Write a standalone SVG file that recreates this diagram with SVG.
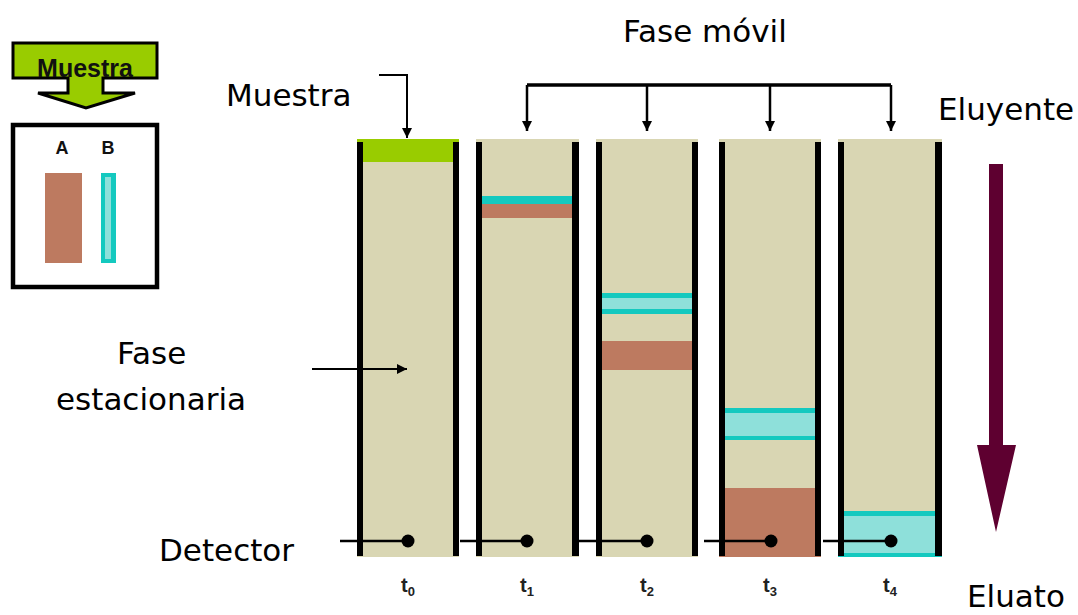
<svg xmlns="http://www.w3.org/2000/svg" width="1078" height="615" viewBox="0 0 1078 615">
  <style>
    .lbl { font-family: "DejaVu Sans", Verdana, sans-serif; font-size: 31px; fill: #000; }
    .bold { font-family: "Liberation Sans", Arial, sans-serif; font-weight: bold; fill: #111; }
    .tl { font-family: "Liberation Sans", Arial, sans-serif; font-weight: bold; font-size: 20px; fill: #222; text-anchor: middle; }
    .sub { font-size: 13px; }
    .bed { fill: #D9D6B3; }
    .wall { fill: #000; }
    .brown { fill: #BD7A60; }
    .cyan { fill: #14C9BF; }
    .cyanlight { fill: #8EE0DA; }
    .line { stroke: #000; fill: none; }
  </style>
  <defs>
    <marker id="ah" viewBox="0 0 10 10" refX="10" refY="5" markerWidth="4" markerHeight="4" orient="auto" markerUnits="strokeWidth">
      <path d="M0,0 L10,5 L0,10 z" fill="#000"/>
    </marker>
    <marker id="ahs" viewBox="0 0 10 10" refX="10" refY="5" markerWidth="5" markerHeight="5" orient="auto" markerUnits="strokeWidth">
      <path d="M0,0 L10,5 L0,10 z" fill="#000"/>
    </marker>
  </defs>

  <!-- sample legend -->
  <g id="legend-sample">
    <path d="M13,43 H157 V78 H103 V93 H135 L86,108 L38,93 H68 V78 H13 Z" fill="#99CC00" stroke="#000" stroke-width="3" stroke-linejoin="miter"/>
    <text class="bold" x="85" y="77" font-size="25" text-anchor="middle">Muestra</text>
  </g>
  <g id="legend-box">
    <rect x="13" y="125" width="144" height="162" fill="#fff" stroke="#000" stroke-width="4.5"/>
    <text class="bold" x="62" y="154" font-size="18" text-anchor="middle">A</text>
    <text class="bold" x="108" y="154" font-size="18" text-anchor="middle">B</text>
    <rect class="brown" x="45" y="173" width="37" height="90"/>
    <rect class="cyan" x="101" y="173" width="15" height="90"/>
    <rect class="cyanlight" x="105" y="177" width="6" height="82"/>
  </g>

  <!-- column t0 -->
  <g id="col-t0">
    <rect class="bed" x="357" y="139" width="102" height="418"/>
    <rect x="357" y="139" width="102" height="23" fill="#99CC00"/>
    <rect class="wall" x="357" y="142" width="6" height="414"/>
    <rect class="wall" x="453" y="142" width="6" height="414"/>
  </g>
  <!-- column t1 -->
  <g id="col-t1">
    <rect class="bed" x="476" y="139" width="103" height="418"/>
    <rect class="cyan" x="482" y="196" width="90" height="8"/>
    <rect class="brown" x="482" y="204" width="90" height="14"/>
    <rect class="wall" x="476" y="142" width="6" height="414"/>
    <rect class="wall" x="572" y="142" width="7" height="414"/>
  </g>
  <!-- column t2 -->
  <g id="col-t2">
    <rect class="bed" x="596" y="139" width="102" height="418"/>
    <rect class="cyan" x="602" y="293" width="90" height="21"/>
    <rect class="cyanlight" x="602" y="298" width="90" height="11"/>
    <rect class="brown" x="602" y="341" width="90" height="29"/>
    <rect class="wall" x="596" y="142" width="6" height="414"/>
    <rect class="wall" x="692" y="142" width="6" height="414"/>
  </g>
  <!-- column t3 -->
  <g id="col-t3">
    <rect class="bed" x="719" y="139" width="102" height="418"/>
    <rect class="cyan" x="725" y="408" width="91" height="32"/>
    <rect class="cyanlight" x="725" y="413" width="91" height="23"/>
    <rect class="brown" x="719" y="488" width="102" height="69"/>
    <rect class="wall" x="719" y="142" width="6" height="414"/>
    <rect class="wall" x="815" y="142" width="6" height="414"/>
  </g>
  <!-- column t4 -->
  <g id="col-t4">
    <rect class="bed" x="838" y="139" width="104" height="418"/>
    <rect class="cyan" x="838" y="511" width="104" height="46"/>
    <rect class="cyanlight" x="844" y="516" width="91" height="37"/>
    <rect class="wall" x="838" y="142" width="6" height="414"/>
    <rect class="wall" x="935" y="142" width="7" height="414"/>
  </g>

  <!-- eluent direction arrow -->
  <g id="eluent-arrow">
    <path d="M989,164 H1003 V445 H1016 L996,532 L977,445 H989 Z" fill="#5E0030"/>
  </g>

  <!-- connectors -->
  <g id="connectors">
    <!-- sample inlet -->
    <path class="line" d="M379,75 H407 V138" stroke-width="2" marker-end="url(#ahs)"/>
    <!-- mobile phase distribution -->
    <path class="line" d="M527,85 H891" stroke-width="3.5"/>
    <path class="line" d="M527,85 V131" stroke-width="2.5" marker-end="url(#ah)"/>
    <path class="line" d="M647,85 V131" stroke-width="2.5" marker-end="url(#ah)"/>
    <path class="line" d="M770,85 V131" stroke-width="2.5" marker-end="url(#ah)"/>
    <path class="line" d="M891,85 V131" stroke-width="2.5" marker-end="url(#ah)"/>
    <!-- stationary phase pointer -->
    <path class="line" d="M312,369 H407" stroke-width="2" marker-end="url(#ahs)"/>
    <!-- detectors -->
    <g stroke="#000" stroke-width="2.5">
      <line x1="340" y1="541" x2="408" y2="541"/>
      <line x1="460" y1="541" x2="527" y2="541"/>
      <line x1="578" y1="541" x2="647" y2="541"/>
      <line x1="704" y1="541" x2="771" y2="541"/>
      <line x1="823" y1="541" x2="891" y2="541"/>
    </g>
    <g fill="#000">
      <circle cx="408" cy="541" r="6.5"/>
      <circle cx="527" cy="541" r="6.5"/>
      <circle cx="647" cy="541" r="6.5"/>
      <circle cx="771" cy="541" r="6.5"/>
      <circle cx="891" cy="541" r="6.5"/>
    </g>
  </g>

  <!-- labels -->
  <g id="labels">
    <text class="lbl" x="623" y="42">Fase móvil</text>
    <text class="lbl" x="938" y="120">Eluyente</text>
    <text class="lbl" x="226" y="106">Muestra</text>
    <text class="lbl" x="117" y="364">Fase</text>
    <text class="lbl" x="56" y="410">estacionaria</text>
    <text class="lbl" x="159" y="561">Detector</text>
    <text class="lbl" x="967" y="607">Eluato</text>
  </g>
  <g id="time-labels">
    <text class="tl" x="408" y="592">t<tspan class="sub" dy="4">0</tspan></text>
    <text class="tl" x="527" y="592">t<tspan class="sub" dy="4">1</tspan></text>
    <text class="tl" x="647" y="592">t<tspan class="sub" dy="4">2</tspan></text>
    <text class="tl" x="770" y="592">t<tspan class="sub" dy="4">3</tspan></text>
    <text class="tl" x="890" y="592">t<tspan class="sub" dy="4">4</tspan></text>
  </g>
</svg>
